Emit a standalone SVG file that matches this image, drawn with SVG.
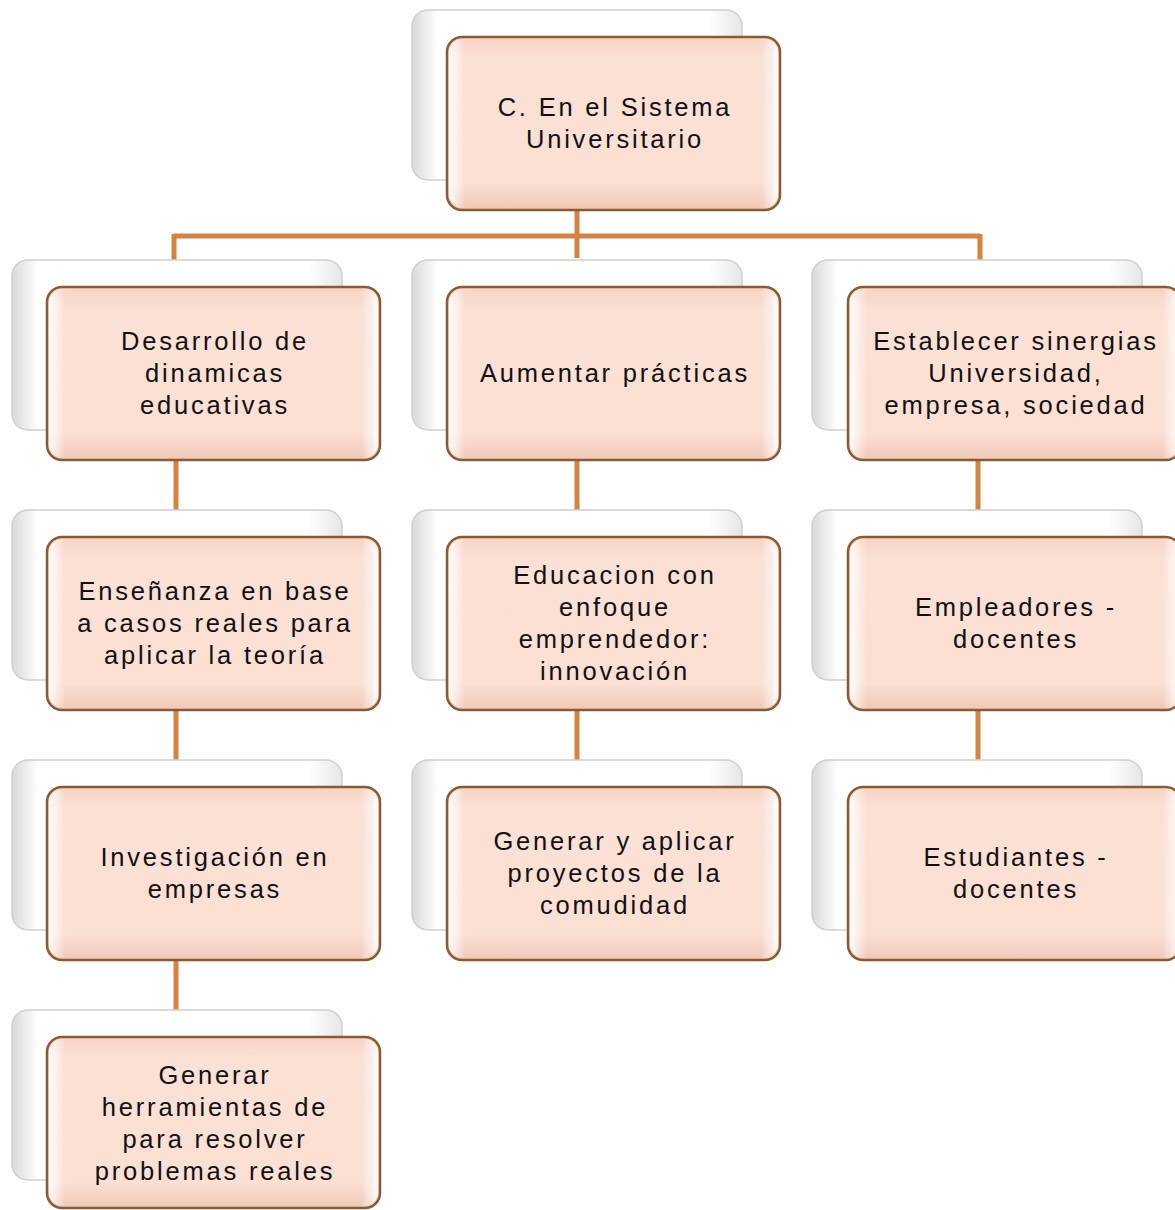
<svg xmlns="http://www.w3.org/2000/svg" width="1175" height="1210" viewBox="0 0 1175 1210">
<defs>
<linearGradient id="gBack" x1="0" y1="0" x2="1" y2="0">
<stop offset="0" stop-color="#d9d9d9"/>
<stop offset="0.08" stop-color="#ffffff"/>
<stop offset="0.9" stop-color="#ffffff"/>
<stop offset="1" stop-color="#e6e6e6"/>
</linearGradient>
<linearGradient id="gFront" x1="0" y1="0" x2="0" y2="1">
<stop offset="0" stop-color="#f6d3c4"/>
<stop offset="0.12" stop-color="#fbe0d5"/>
<stop offset="0.85" stop-color="#fbdfd3"/>
<stop offset="1" stop-color="#efc8b6"/>
</linearGradient>
<linearGradient id="gSide" x1="0" y1="0" x2="1" y2="0">
<stop offset="0" stop-color="#ffffff" stop-opacity="0.9"/>
<stop offset="0.05" stop-color="#ffffff" stop-opacity="0"/>
<stop offset="0.95" stop-color="#ffffff" stop-opacity="0"/>
<stop offset="1" stop-color="#ffffff" stop-opacity="0.9"/>
</linearGradient>
</defs>
<style>
.back{fill:url(#gBack);stroke:#cfcfcf;stroke-width:1.5}
.front{fill:url(#gFront);stroke:#8a5a30;stroke-width:2.5}
.sheen{fill:url(#gSide);stroke:none}
.conn{stroke:#d5843f;stroke-width:5;fill:none}
.lbl{font-family:"Liberation Sans",Arial,sans-serif;font-size:25.5px;letter-spacing:2.8px;fill:#111;text-anchor:middle}
</style>
<rect width="1175" height="1210" fill="#ffffff"/>
<g id="connectors">
<path class="conn" d="M577 210 V258 M174 236 H980 M174 234 V262 M980 234 V262"/>
<path class="conn" d="M176 460 V512 M176 710 V762 M176 960 V1012"/>
<path class="conn" d="M577 460 V512 M577 710 V762"/>
<path class="conn" d="M978 460 V512 M978 710 V762"/>
</g>
<g id="n0">
<rect class="back" x="412" y="10" width="330" height="170" rx="16"/>
<rect class="front" x="447" y="37" width="333" height="173" rx="15"/>
<rect class="sheen" x="449" y="39" width="329" height="169" rx="14"/>
<text class="lbl" x="615" y="116">C. En el Sistema</text>
<text class="lbl" x="615" y="148">Universitario</text>
</g>
<g id="n1">
<rect class="back" x="12" y="260" width="330" height="170" rx="16"/>
<rect class="front" x="47" y="287" width="333" height="173" rx="15"/>
<rect class="sheen" x="49" y="289" width="329" height="169" rx="14"/>
<text class="lbl" x="215" y="350">Desarrollo de</text>
<text class="lbl" x="215" y="382">dinamicas</text>
<text class="lbl" x="215" y="414">educativas</text>
</g>
<g id="n2">
<rect class="back" x="412" y="260" width="330" height="170" rx="16"/>
<rect class="front" x="447" y="287" width="333" height="173" rx="15"/>
<rect class="sheen" x="449" y="289" width="329" height="169" rx="14"/>
<text class="lbl" x="615" y="382">Aumentar prácticas</text>
</g>
<g id="n3">
<rect class="back" x="812" y="260" width="330" height="170" rx="16"/>
<rect class="front" x="848" y="287" width="333" height="173" rx="15"/>
<rect class="sheen" x="850" y="289" width="329" height="169" rx="14"/>
<text class="lbl" x="1016" y="350">Establecer sinergias</text>
<text class="lbl" x="1016" y="382">Universidad,</text>
<text class="lbl" x="1016" y="414">empresa, sociedad</text>
</g>
<g id="n4">
<rect class="back" x="12" y="510" width="330" height="170" rx="16"/>
<rect class="front" x="47" y="537" width="333" height="173" rx="15"/>
<rect class="sheen" x="49" y="539" width="329" height="169" rx="14"/>
<text class="lbl" x="215" y="600">Enseñanza en base</text>
<text class="lbl" x="215" y="632">a casos reales para</text>
<text class="lbl" x="215" y="664">aplicar la teoría</text>
</g>
<g id="n5">
<rect class="back" x="412" y="510" width="330" height="170" rx="16"/>
<rect class="front" x="447" y="537" width="333" height="173" rx="15"/>
<rect class="sheen" x="449" y="539" width="329" height="169" rx="14"/>
<text class="lbl" x="615" y="584">Educacion con</text>
<text class="lbl" x="615" y="616">enfoque</text>
<text class="lbl" x="615" y="648">emprendedor:</text>
<text class="lbl" x="615" y="680">innovación</text>
</g>
<g id="n6">
<rect class="back" x="812" y="510" width="330" height="170" rx="16"/>
<rect class="front" x="848" y="537" width="333" height="173" rx="15"/>
<rect class="sheen" x="850" y="539" width="329" height="169" rx="14"/>
<text class="lbl" x="1016" y="616">Empleadores -</text>
<text class="lbl" x="1016" y="648">docentes</text>
</g>
<g id="n7">
<rect class="back" x="12" y="760" width="330" height="170" rx="16"/>
<rect class="front" x="47" y="787" width="333" height="173" rx="15"/>
<rect class="sheen" x="49" y="789" width="329" height="169" rx="14"/>
<text class="lbl" x="215" y="866">Investigación en</text>
<text class="lbl" x="215" y="898">empresas</text>
</g>
<g id="n8">
<rect class="back" x="412" y="760" width="330" height="170" rx="16"/>
<rect class="front" x="447" y="787" width="333" height="173" rx="15"/>
<rect class="sheen" x="449" y="789" width="329" height="169" rx="14"/>
<text class="lbl" x="615" y="850">Generar y aplicar</text>
<text class="lbl" x="615" y="882">proyectos de la</text>
<text class="lbl" x="615" y="914">comudidad</text>
</g>
<g id="n9">
<rect class="back" x="812" y="760" width="330" height="170" rx="16"/>
<rect class="front" x="848" y="787" width="333" height="173" rx="15"/>
<rect class="sheen" x="850" y="789" width="329" height="169" rx="14"/>
<text class="lbl" x="1016" y="866">Estudiantes -</text>
<text class="lbl" x="1016" y="898">docentes</text>
</g>
<g id="n10">
<rect class="back" x="12" y="1010" width="330" height="170" rx="16"/>
<rect class="front" x="47" y="1037" width="333" height="171" rx="15"/>
<rect class="sheen" x="49" y="1039" width="329" height="167" rx="14"/>
<text class="lbl" x="215" y="1084">Generar</text>
<text class="lbl" x="215" y="1116">herramientas de</text>
<text class="lbl" x="215" y="1148">para resolver</text>
<text class="lbl" x="215" y="1180">problemas reales</text>
</g>
</svg>
